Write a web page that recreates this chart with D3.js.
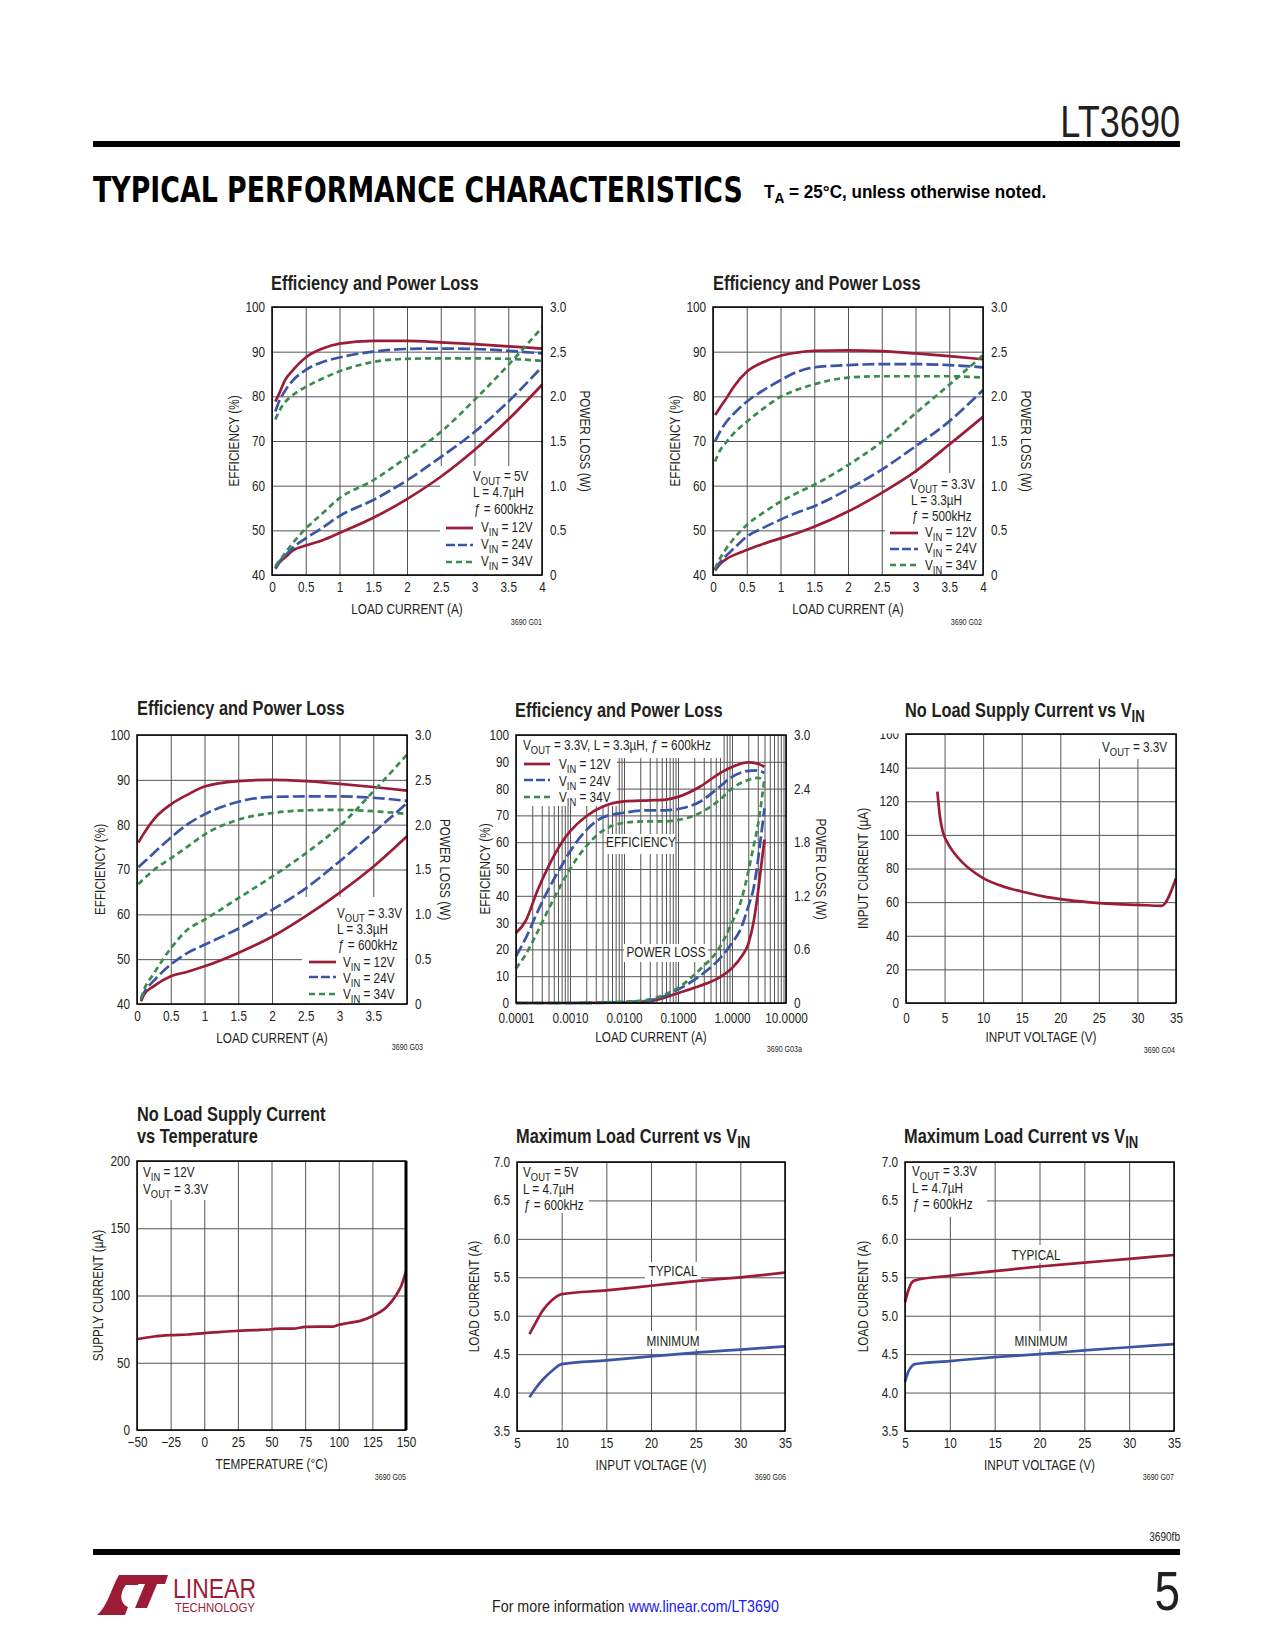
<!DOCTYPE html>
<html><head><meta charset="utf-8">
<script src="https://cdn.jsdelivr.net/npm/d3@7"></script>
<style>body{margin:0;background:#fff} svg{display:block}</style>
</head><body><script>
// ---------------- DATA ----------------
// G01: VOUT=5V, L=4.7uH, f=600kHz
const g01Load  = [0.05,0.1,0.2,0.3,0.5,0.75,1,1.5,2,2.5,3,3.5,4];
const g01Eff12 = [78.8,80.4,83.8,85.7,88.7,90.7,91.8,92.4,92.4,92.1,91.7,91.2,90.7];
const g01Eff24 = [76.6,78.7,81.4,83.4,85.9,87.7,88.7,90.0,90.6,90.7,90.6,90.2,89.6];
const g01Eff34 = [74.8,76.5,78.8,80.2,82.1,84.0,85.6,87.7,88.4,88.5,88.5,88.4,87.9];
const g01Pl12  = [0.07,0.13,0.20,0.27,0.33,0.39,0.47,0.64,0.85,1.10,1.40,1.74,2.13];
const g01Pl24  = [0.08,0.14,0.22,0.30,0.41,0.53,0.66,0.84,1.06,1.32,1.60,1.94,2.33];
const g01Pl34  = [0.10,0.15,0.25,0.35,0.52,0.69,0.86,1.06,1.32,1.60,1.96,2.35,2.77];
// G02: VOUT=3.3V, L=3.3uH, f=500kHz
const g02Load  = [0.03,0.1,0.2,0.3,0.5,0.75,1,1.25,1.5,2,2.5,3,3.5,4];
const g02Eff12 = [75.8,77.4,79.6,82.0,85.5,87.7,89.1,89.8,90.2,90.3,90.1,89.6,89.0,88.3];
const g02Eff24 = [69.9,72.0,74.3,76.0,78.8,81.4,83.6,85.5,86.5,87.0,87.2,87.2,87.0,86.5];
const g02Eff34 = [65.4,67.8,69.8,71.6,74.3,77.3,79.9,81.5,82.7,84.2,84.5,84.5,84.5,84.2];
const g02Pl12  = [0.05,0.12,0.18,0.22,0.28,0.35,0.41,0.47,0.54,0.71,0.92,1.16,1.46,1.77];
const g02Pl24  = [0.06,0.14,0.22,0.29,0.43,0.53,0.62,0.70,0.77,0.96,1.18,1.44,1.72,2.07];
const g02Pl34  = [0.07,0.18,0.30,0.40,0.56,0.70,0.82,0.92,1.01,1.23,1.49,1.81,2.13,2.46];
// G03: VOUT=3.3V, L=3.3uH, f=600kHz
const g03Load   = [0.02,0.1,0.25,0.5,0.75,1,1.5,2,2.5,3,3.5,4];
const g03Eff12  = [76.0,78.0,81.2,84.5,86.7,88.5,89.7,90.0,89.7,89.1,88.4,87.6];
const g03Eff24  = [70.5,71.6,73.7,77.1,80.1,82.3,85.1,86.2,86.3,86.3,86.0,85.3];
const g03Eff34  = [66.7,67.9,69.9,72.5,75.1,77.8,81.1,82.6,83.2,83.3,83.0,82.4];
const g03PlLoad = [0.06,0.1,0.25,0.5,0.75,1,1.5,2,2.5,3,3.5,4];
const g03Pl12   = [0.03,0.10,0.20,0.31,0.36,0.42,0.57,0.75,0.98,1.24,1.53,1.87];
const g03Pl24   = [0.05,0.12,0.26,0.44,0.57,0.66,0.84,1.05,1.29,1.59,1.91,2.24];
const g03Pl34   = [0.06,0.15,0.34,0.62,0.83,0.94,1.18,1.42,1.68,1.98,2.37,2.78];
// G03a: log load current
const g03aEffLoad = [0.0001,0.00015,0.00025,0.0004,0.0007,0.001,0.002,0.004,0.01,0.03,0.06,0.1,0.25,0.6,1.0,2.0,3.0,4.0];
const g03aEff12 = [26.1,30.5,42,51.0,59.8,64.0,69.7,73.2,75.2,75.6,75.9,76.9,80.6,85.8,88.1,89.8,89.3,88.1];
const g03aEff24 = [17.4,24,34,42.5,51.2,56.5,64.5,69.2,71.0,71.9,71.9,72.4,75.0,80.8,84.4,86.6,86.8,85.8];
const g03aEff34 = [12.9,18,26.5,35,44.5,50,58.5,64.2,67.2,67.8,67.8,68.3,70.8,75.9,80.0,83.2,84.0,83.3];
const g03aPlLoad = [0.0001,0.001,0.01,0.03,0.06,0.1,0.25,0.6,1.0,1.5,2.0,2.5,3.0,3.5,4.0];
const g03aPl12  = [0,0,0.005,0.02,0.065,0.11,0.19,0.29,0.39,0.52,0.66,0.90,1.22,1.55,1.83];
const g03aPl24  = [0,0,0.01,0.03,0.085,0.15,0.30,0.50,0.67,0.85,1.08,1.28,1.58,1.90,2.18];
const g03aPl34  = [0,0,0.015,0.04,0.10,0.17,0.37,0.63,0.90,1.16,1.47,1.75,1.98,2.25,2.52];
// G04: no load supply current vs VIN
const g04Vin = [4.07,4.4,4.76,5.3,6.1,7.4,8.7,10,12.6,15,17.8,20,22.6,25,27.3,30,33.1,35];
const g04Iq  = [125.7,110.9,102,96,90.1,83.2,78.2,74.3,69.3,66.3,63.4,61.8,60.4,59.4,58.8,58.4,57.8,74.3];
// G05: no load supply current vs temperature
const g05Temp = [-50,-37.5,-25,-12.5,0,12.5,25,37.5,50,56.5,65.5,75.5,86,96,100,106,116,125.5,136,142,146.5,150];
const g05Iq   = [67.5,69.5,70.5,71.0,72.0,73.0,73.7,74.3,74.9,75.4,75.4,76.7,76.9,76.9,78.2,79.4,81.1,84.9,91.8,99.3,107.2,117.9];
// G06: max load current vs VIN (VOUT=5V)
const g06Vin = [6.4,7.05,7.9,8.9,10,15,20,25,30,35];
const g06Typ = [4.76,4.90,5.07,5.20,5.28,5.33,5.39,5.45,5.50,5.56];
const g06Min = [3.94,4.05,4.17,4.28,4.37,4.42,4.47,4.52,4.56,4.60];
// G07: max load current vs VIN (VOUT=3.3V)
const g07Vin = [5.0,5.37,5.74,6.1,10,15,20,25,30,35];
const g07Typ = [5.17,5.33,5.43,5.46,5.52,5.58,5.64,5.69,5.74,5.79];
const g07Min = [4.14,4.27,4.34,4.37,4.41,4.46,4.50,4.55,4.59,4.63];
// tick values
const loadTicks = [0,0.5,1,1.5,2,2.5,3,3.5,4];
const effTicks  = [40,50,60,70,80,90,100];
const plTicks   = [0,0.5,1,1.5,2,2.5,3];
const effTicksLog = [0,10,20,30,40,50,60,70,80,90,100];
const plTicksLog  = [0,0.6,1.2,1.8,2.4,3.0];
const vinTicks35 = [0,5,10,15,20,25,30,35];
const iqTicks160 = [0,20,40,60,80,100,120,140,160];
const tempTicks  = [-50,-25,0,25,50,75,100,125,150];
const iqTicks200 = [0,50,100,150,200];
const vinTicks5  = [5,10,15,20,25,30,35];
const ilTicks    = [3.5,4,4.5,5,5.5,6,6.5,7];

// ---------------- STYLE ----------------
const FONT = "'Liberation Sans',Arial,Helvetica,sans-serif";
const SX = 0.84, SXB = 0.82;           // horizontal condensing of the sans face
const RED = "#9c1b36", BLUE = "#3b55a6", GREEN = "#3a8c4e";
const INK = "#231f20", GRID = "#555555";
const DASH24 = "12,4", DASH34 = "6,4";

const svg = d3.select("body").append("svg").attr("width",1275).attr("height",1650)
  .attr("font-family",FONT);

function rich(sel, x, y, s, o={}){
  const size = o.size || 14;
  const sx = o.sx || (o.weight==="bold" ? SXB : SX);
  const t = sel.append("text").attr("x",0).attr("y",0).attr("font-size",size)
    .attr("text-anchor",o.anchor||"start").attr("font-weight",o.weight||"normal")
    .attr("fill",o.fill||INK).attr("font-family",o.family||FONT).style("white-space","pre")
    .attr("transform",`translate(${x},${y})${o.rotate?` rotate(${o.rotate})`:""} scale(${sx},1)`);
  if(o.dy) t.attr("dy",o.dy);
  const parts = s.split(/(_\{[^}]*\})/).filter(p=>p.length);
  const sh = size*0.26; let shifted = false;
  parts.forEach(p=>{
    if(p.startsWith("_{")){
      t.append("tspan").attr("dy",sh).attr("font-size",size*0.8).text(p.slice(2,-1)); shifted = true;
    } else {
      const ts = t.append("tspan").text(p);
      if(shifted){ ts.attr("dy",-sh); shifted = false; }
    }
  });
  return t;
}
// scale a text horizontally so that it spans exactly `target` px
function fit(t, x, y, target){
  const w = t.node().getComputedTextLength();
  t.attr("x",0).attr("y",0).attr("transform",`translate(${x},${y}) scale(${target/w},1)`);
}

const fmtLoad = d => d3.format("~g")(d);
const fmtPl = d => d===0 ? "0" : d3.format(".1f")(d);

function drawPlot(c){
  const g = svg.append("g");
  const x = c.x.range([c.x0, c.x0+c.w]);
  const y = c.y.range([c.y0+c.h, c.y0]);
  const y2 = c.y2 ? c.y2.range([c.y0+c.h, c.y0]) : null;
  const ax = g.append("g").attr("transform",`translate(0,${c.y0+c.h})`)
    .call(d3.axisBottom(x).tickValues(c.xGrid).tickSize(-c.h).tickPadding(c.xPad||7).tickFormat(c.xFmt));
  const ay = g.append("g").attr("transform",`translate(${c.x0},0)`)
    .call(d3.axisLeft(y).tickValues(c.yGrid).tickSize(-c.w).tickPadding(7).tickFormat(c.yFmt));
  const axes = [ax, ay];
  if(y2){
    const ar = g.append("g").attr("transform",`translate(${c.x0+c.w},0)`)
      .call(d3.axisRight(y2).tickValues(c.y2Ticks).tickSize(0).tickPadding(8).tickFormat(c.y2Fmt));
    axes.push(ar);
  }
  axes.forEach(a=>{
    a.select(".domain").remove();
    a.selectAll(".tick line").attr("stroke",GRID).attr("stroke-width",1);
    a.selectAll(".tick text").attr("font-size",14).attr("font-family",FONT).attr("fill",INK)
      .each(function(){ const t=d3.select(this); const xx=+t.attr("x")||0;
        t.attr("x", xx/SX).attr("transform",`scale(${SX},1)`); });
  });
  (c.boxes||[]).forEach(b=> g.append("rect").attr("x",b[0]).attr("y",b[1]).attr("width",b[2]).attr("height",b[3]).attr("fill","#fff"));
  const line = (sc)=> d3.line().x(d=>x(d[0])).y(d=>sc(d[1])).curve(d3.curveMonotoneX);
  c.series.forEach(s=>{
    const pts = s.x.map((v,i)=>[v, s.y[i]]);
    g.append("path").datum(pts).attr("d", line(s.right ? y2 : y)(pts))
      .attr("fill","none").attr("stroke",s.color).attr("stroke-width",2.7)
      .attr("stroke-dasharray", s.dash || null);
  });
  g.append("rect").attr("x",c.x0).attr("y",c.y0).attr("width",c.w).attr("height",c.h)
    .attr("fill","none").attr("stroke","#000").attr("stroke-width",1.5);
  if(c.thickRight) g.append("line").attr("x1",c.x0+c.w).attr("x2",c.x0+c.w).attr("y1",c.y0).attr("y2",c.y0+c.h)
    .attr("stroke","#000").attr("stroke-width",3);
  if(c.clipTop) g.append("rect").attr("x",c.x0-40).attr("y",c.y0-14).attr("width",36).attr("height",13.5).attr("fill","#fff");
  c.title.forEach((t,i)=> rich(g, c.x0 + (c.titleDx||0), c.titleY + i*22, t, {size:20, weight:"bold"}));
  rich(g, c.x0 + c.w/2, c.y0 + c.h + 39, c.xLabel, {anchor:"middle", size:14});
  rich(g, c.x0 - c.yOff, c.y0 + c.h/2, c.yLabel, {anchor:"middle", size:14, dy:"0.35em", rotate:-90});
  if(c.y2Label) rich(g, c.x0 + c.w + c.y2Off, c.y0 + c.h/2, c.y2Label, {anchor:"middle", size:14, dy:"0.35em", rotate:90});
  (c.notes||[]).forEach(n=> rich(g, n[0], n[1], n[2], {anchor:n[3]||"start", size:14}));
  (c.legend||[]).forEach(l=> g.append("line").attr("x1",l[0]).attr("x2",l[1]).attr("y1",l[2]).attr("y2",l[2])
     .attr("stroke",l[3]).attr("stroke-width",2.7).attr("stroke-dasharray",l[4]||null));
  rich(g, c.idX, c.idY, c.id, {anchor:"end", size:8.5});
}

// ---------------- HEADER ----------------
rich(svg, 1180, 137, "LT3690", {anchor:"end", size:44, sx:0.82});
svg.append("rect").attr("x",93).attr("y",141).attr("width",1087).attr("height",6).attr("fill","#000");
const hdr = svg.append("text").attr("font-size",36).attr("font-weight","bold").attr("fill","#000")
  .attr("font-family","'DejaVu Sans Condensed','DejaVu Sans',sans-serif")
  .text("TYPICAL PERFORMANCE CHARACTERISTICS");
fit(hdr, 93, 202, 650);
rich(svg, 764, 198, "T_{A} = 25°C, unless otherwise noted.", {size:19, weight:"bold", fill:"#000", sx:0.9});

// ---------------- CHARTS ----------------
const effLabel = "EFFICIENCY (%)", plLabel = "POWER LOSS (W)", lcLabel = "LOAD CURRENT (A)";

drawPlot({x0:272,y0:307,w:270,h:268, x:d3.scaleLinear().domain([0,4]), y:d3.scaleLinear().domain([40,100]),
  y2:d3.scaleLinear().domain([0,3]), xGrid:loadTicks, xFmt:fmtLoad, yGrid:effTicks, yFmt:d3.format("d"),
  y2Ticks:plTicks, y2Fmt:fmtPl, title:["Efficiency and Power Loss"], titleY:290, titleDx:-1,
  xLabel:lcLabel, yLabel:effLabel, yOff:38, y2Label:plLabel, y2Off:43, id:"3690 G01", idX:542, idY:625,
  boxes:[[440,466,101,108]],
  series:[
    {x:g01Load,y:g01Eff12,color:RED},{x:g01Load,y:g01Eff24,color:BLUE,dash:DASH24},{x:g01Load,y:g01Eff34,color:GREEN,dash:DASH34},
    {x:g01Load,y:g01Pl12,color:RED,right:true},{x:g01Load,y:g01Pl24,color:BLUE,dash:DASH24,right:true},{x:g01Load,y:g01Pl34,color:GREEN,dash:DASH34,right:true}],
  notes:[[473,481,"V_{OUT} = 5V"],[473,497,"L = 4.7µH"],[474,514,"ƒ = 600kHz"],
    [481,532,"V_{IN} = 12V"],[481,549,"V_{IN} = 24V"],[481,566,"V_{IN} = 34V"]],
  legend:[[446,473,528,RED],[446,473,545,BLUE,"9,3"],[446,473,562,GREEN,DASH34]]
});

drawPlot({x0:713,y0:307,w:270,h:268, x:d3.scaleLinear().domain([0,4]), y:d3.scaleLinear().domain([40,100]),
  y2:d3.scaleLinear().domain([0,3]), xGrid:loadTicks, xFmt:fmtLoad, yGrid:effTicks, yFmt:d3.format("d"),
  y2Ticks:plTicks, y2Fmt:fmtPl, title:["Efficiency and Power Loss"], titleY:290,
  xLabel:lcLabel, yLabel:effLabel, yOff:38, y2Label:plLabel, y2Off:43, id:"3690 G02", idX:982, idY:625,
  boxes:[[885,473,97,101]],
  series:[
    {x:g02Load,y:g02Eff12,color:RED},{x:g02Load,y:g02Eff24,color:BLUE,dash:DASH24},{x:g02Load,y:g02Eff34,color:GREEN,dash:DASH34},
    {x:g02Load,y:g02Pl12,color:RED,right:true},{x:g02Load,y:g02Pl24,color:BLUE,dash:DASH24,right:true},{x:g02Load,y:g02Pl34,color:GREEN,dash:DASH34,right:true}],
  notes:[[910,489,"V_{OUT} = 3.3V"],[911,505,"L = 3.3µH"],[912,521,"ƒ = 500kHz"],
    [925,537,"V_{IN} = 12V"],[925,553,"V_{IN} = 24V"],[925,570,"V_{IN} = 34V"]],
  legend:[[890,918,533,RED],[890,918,549,BLUE,"9,3"],[890,918,565,GREEN,DASH34]]
});

drawPlot({x0:137,y0:735,w:270,h:269, x:d3.scaleLinear().domain([0,4]), y:d3.scaleLinear().domain([40,100]),
  y2:d3.scaleLinear().domain([0,3]), xGrid:loadTicks, xFmt:d=> d===4 ? "" : fmtLoad(d), yGrid:effTicks, yFmt:d3.format("d"),
  y2Ticks:plTicks, y2Fmt:fmtPl, title:["Efficiency and Power Loss"], titleY:715,
  xLabel:lcLabel, yLabel:effLabel, yOff:37, y2Label:plLabel, y2Off:38, id:"3690 G03", idX:423, idY:1050,
  boxes:[[302,897,104,106]],
  series:[
    {x:g03Load,y:g03Eff12,color:RED},{x:g03Load,y:g03Eff24,color:BLUE,dash:DASH24},{x:g03Load,y:g03Eff34,color:GREEN,dash:DASH34},
    {x:g03PlLoad,y:g03Pl12,color:RED,right:true},{x:g03PlLoad,y:g03Pl24,color:BLUE,dash:DASH24,right:true},{x:g03PlLoad,y:g03Pl34,color:GREEN,dash:DASH34,right:true}],
  notes:[[337,918,"V_{OUT} = 3.3V"],[337,934,"L = 3.3µH"],[338,950,"ƒ = 600kHz"],
    [343,967,"V_{IN} = 12V"],[343,983,"V_{IN} = 24V"],[343,999,"V_{IN} = 34V"]],
  legend:[[309,336,962,RED],[309,336,977,BLUE,"9,3"],[309,336,994,GREEN,DASH34]]
});

const logGrid = [];
for(let e=-4;e<=0;e++) for(let k=1;k<=9;k++) logGrid.push(k*Math.pow(10,e));
logGrid.push(10);
const isDecade = d => Math.abs(Math.log10(d) - Math.round(Math.log10(d))) < 1e-9;
drawPlot({x0:516,y0:735,w:270,h:268, x:d3.scaleLog().domain([0.0001,10]), y:d3.scaleLinear().domain([0,100]),
  y2:d3.scaleLinear().domain([0,3]), xGrid:logGrid, xFmt:d=> isDecade(d) ? d3.format(".4f")(d) : "", xPad:10,
  yGrid:effTicksLog, yFmt:d3.format("d"), y2Ticks:plTicksLog, y2Fmt:fmtPl,
  title:["Efficiency and Power Loss"], titleY:717, titleDx:-1,
  xLabel:lcLabel, yLabel:effLabel, yOff:31, y2Label:plLabel, y2Off:35, id:"3690 G03a", idX:802, idY:1052,
  boxes:[[517,736,206,22],[517,736,100,70],[607,834,68,20],[624,944,84,18]],
  series:[
    {x:g03aEffLoad,y:g03aEff12,color:RED},{x:g03aEffLoad,y:g03aEff24,color:BLUE,dash:DASH24},{x:g03aEffLoad,y:g03aEff34,color:GREEN,dash:DASH34},
    {x:g03aPlLoad,y:g03aPl12,color:RED,right:true},{x:g03aPlLoad,y:g03aPl24,color:BLUE,dash:DASH24,right:true},{x:g03aPlLoad,y:g03aPl34,color:GREEN,dash:DASH34,right:true}],
  notes:[[523,750,"V_{OUT} = 3.3V, L = 3.3µH, ƒ = 600kHz"],
    [559,769,"V_{IN} = 12V"],[559,786,"V_{IN} = 24V"],[559,802,"V_{IN} = 34V"],
    [641,847,"EFFICIENCY","middle"],[666,957,"POWER LOSS","middle"]],
  legend:[[524,550,764,RED],[524,550,780,BLUE,"9,3"],[524,550,797,GREEN,DASH34]]
});

drawPlot({x0:906,y0:734,w:270,h:269, x:d3.scaleLinear().domain([0,35]), y:d3.scaleLinear().domain([0,160]),
  xGrid:vinTicks35, xFmt:d3.format("d"), xPad:10, yGrid:iqTicks160, yFmt:d3.format("d"), clipTop:true,
  title:["No Load Supply Current vs V_{IN}"], titleY:717, titleDx:-1,
  xLabel:"INPUT VOLTAGE (V)", yLabel:"INPUT CURRENT (µA)", yOff:43, id:"3690 G04", idX:1175, idY:1053,
  boxes:[[1097,735,78,24]],
  series:[{x:g04Vin,y:g04Iq,color:RED}],
  notes:[[1102,752,"V_{OUT} = 3.3V"]]
});

drawPlot({x0:137,y0:1161,w:269,h:269, x:d3.scaleLinear().domain([-50,150]), y:d3.scaleLinear().domain([0,200]),
  xGrid:tempTicks, xFmt:d3.format("d"), yGrid:iqTicks200, yFmt:d3.format("d"), thickRight:true,
  title:["No Load Supply Current","vs Temperature"], titleY:1121,
  xLabel:"TEMPERATURE (°C)", yLabel:"SUPPLY CURRENT (µA)", yOff:39, id:"3690 G05", idX:406, idY:1480,
  boxes:[[138,1162,75,38]],
  series:[{x:g05Temp,y:g05Iq,color:RED}],
  notes:[[143,1177,"V_{IN} = 12V"],[143,1194,"V_{OUT} = 3.3V"]]
});

drawPlot({x0:517,y0:1162,w:268,h:269, x:d3.scaleLinear().domain([5,35]), y:d3.scaleLinear().domain([3.5,7]),
  xGrid:vinTicks5, xFmt:d3.format("d"), yGrid:ilTicks, yFmt:d3.format(".1f"),
  title:["Maximum Load Current vs V_{IN}"], titleY:1143, titleDx:-1,
  xLabel:"INPUT VOLTAGE (V)", yLabel:lcLabel, yOff:43, id:"3690 G06", idX:786, idY:1480,
  boxes:[[518,1163,71,50],[645,1262,56,18],[640,1331,66,18]],
  series:[{x:g06Vin,y:g06Typ,color:RED},{x:g06Vin,y:g06Min,color:BLUE}],
  notes:[[523,1177,"V_{OUT} = 5V"],[523,1194,"L = 4.7µH"],[524,1210,"ƒ = 600kHz"],
    [673,1276,"TYPICAL","middle"],[673,1346,"MINIMUM","middle"]]
});

drawPlot({x0:905,y0:1162,w:269,h:269, x:d3.scaleLinear().domain([5,35]), y:d3.scaleLinear().domain([3.5,7]),
  xGrid:vinTicks5, xFmt:d3.format("d"), yGrid:ilTicks, yFmt:d3.format(".1f"),
  title:["Maximum Load Current vs V_{IN}"], titleY:1143, titleDx:-1,
  xLabel:"INPUT VOLTAGE (V)", yLabel:lcLabel, yOff:42, id:"3690 G07", idX:1174, idY:1480,
  boxes:[[906,1163,81,54],[1008,1245,56,18],[1008,1331,66,18]],
  series:[{x:g07Vin,y:g07Typ,color:RED},{x:g07Vin,y:g07Min,color:BLUE}],
  notes:[[912,1176,"V_{OUT} = 3.3V"],[912,1193,"L = 4.7µH"],[913,1209,"ƒ = 600kHz"],
    [1036,1260,"TYPICAL","middle"],[1041,1346,"MINIMUM","middle"]]
});

// ---------------- FOOTER ----------------
rich(svg, 1180, 1541, "3690fb", {anchor:"end", size:12});
svg.append("rect").attr("x",93).attr("y",1549).attr("width",1087).attr("height",6).attr("fill","#000");
const logo = svg.append("g").attr("fill",RED);
logo.append("path").attr("d","M97,1615 C108,1606 112,1586 119,1575 L142,1575 L138,1585 L126,1585 C120,1592 119,1603 128,1607 L125,1615 Z");
logo.append("path").attr("d","M141,1575 L168,1575 L165,1584 L157,1584 L147,1608 L135,1608 L145,1584 L138,1584 Z");
const lin = logo.append("text").attr("font-size",28).attr("font-family",FONT).text("LINEAR");
fit(lin, 173, 1598, 83);
const tech = logo.append("text").attr("font-size",12).attr("font-family",FONT).text("TECHNOLOGY");
fit(tech, 175, 1612, 80);
const fm = svg.append("text").attr("font-size",17).attr("fill",INK).style("white-space","pre")
  .attr("transform",`translate(492,1612) scale(${SX},1)`);
fm.append("tspan").text("For more information ");
fm.append("tspan").attr("fill","#2020ee").text("www.linear.com/LT3690");
rich(svg, 1180, 1610, "5", {anchor:"end", size:56, sx:0.82});
</script></body></html>
